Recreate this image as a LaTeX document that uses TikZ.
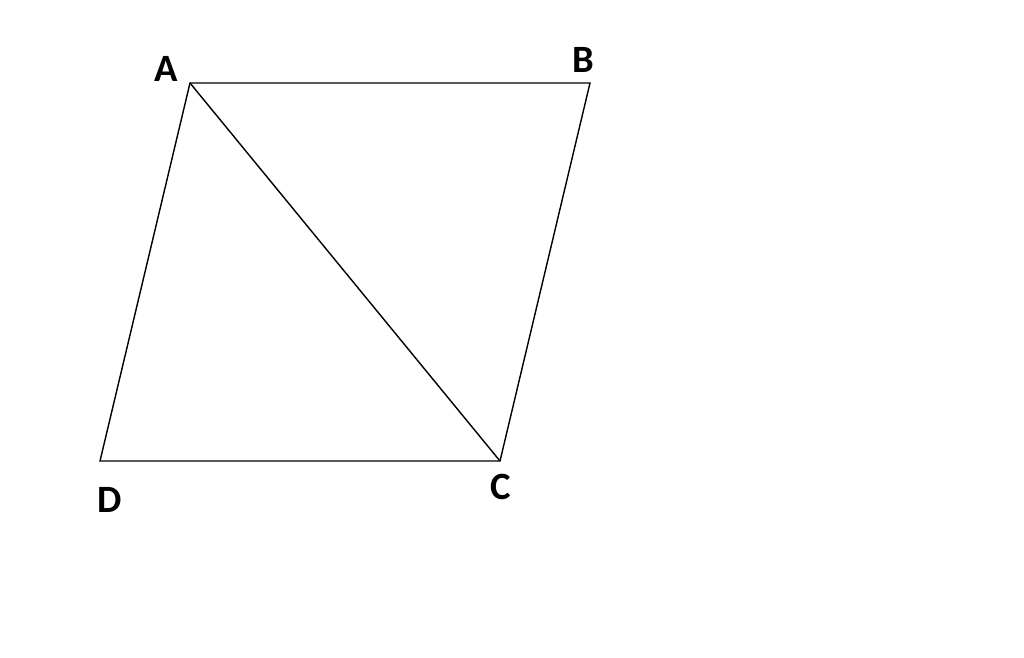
\documentclass[tikz,border=0pt]{standalone}
\usepackage{fontspec}
\setmainfont{Carlito}
\usetikzlibrary{positioning}

\begin{document}
\begin{tikzpicture}
  [
    x=0.02cm, y=-0.02cm,
    side/.style={line width=0.8pt, black},
    vertex/.style={font=\fontsize{22}{24}\selectfont\bfseries, inner sep=0pt}
  ]
  \useasboundingbox (0, 0) rectangle (1024, 657);

  \coordinate (A) at (190, 83);
  \coordinate (B) at (590, 83);
  \coordinate (C) at (500, 461);
  \coordinate (D) at (100, 461);

  \draw[side] (A) -- (B) -- (C) -- (D) -- cycle;
  \draw[side] (A) -- (C);

  \node[vertex] (labA) at (166, 69) {A};
  \node[vertex] (labB) at (583, 60) {B};
  \node[vertex] (labC) at (501, 487) {C};
  \node[vertex] (labD) at (110, 500) {D};
\end{tikzpicture}
\end{document}
